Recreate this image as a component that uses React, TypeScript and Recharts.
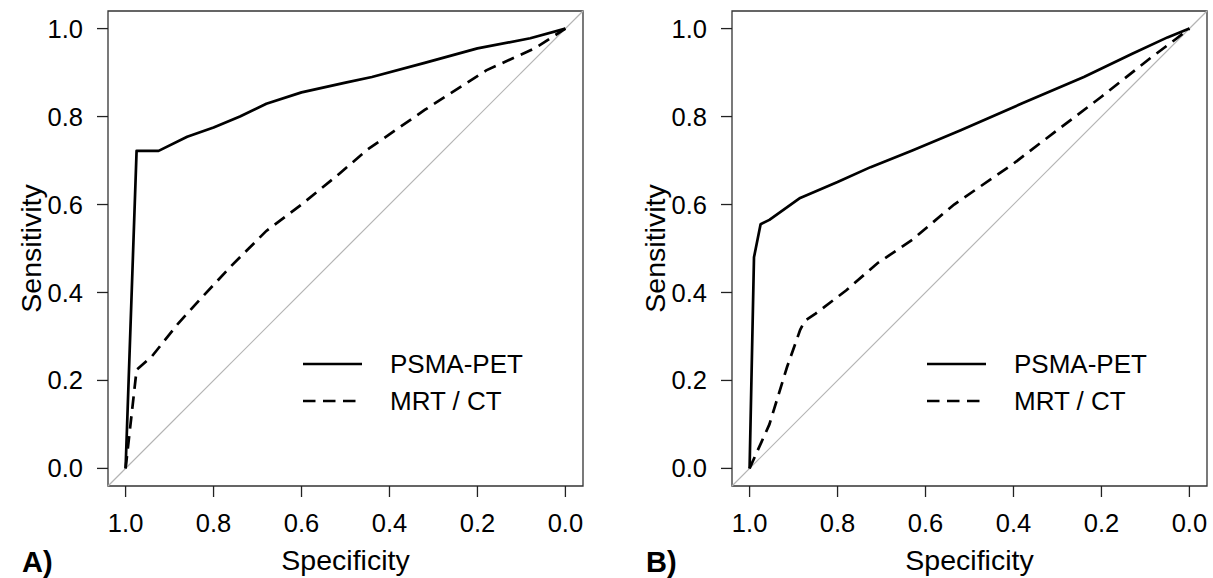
import React from "react";
import {
  Legend,
  Line,
  LineChart,
  ReferenceArea,
  ReferenceLine,
  XAxis,
  YAxis,
} from "recharts";

const FONT = "'Liberation Sans', Arial, sans-serif";

// axis ticks shared by both panels
const TICKS = [0, 0.2, 0.4, 0.6, 0.8, 1.0];

// Panel A
const A_PET_SPEC = [1.0, 0.975, 0.925, 0.86, 0.8, 0.74, 0.68, 0.6, 0.5, 0.44, 0.32, 0.2, 0.08, 0.0];
const A_PET_SENS = [0.0, 0.722, 0.722, 0.754, 0.775, 0.8, 0.829, 0.855, 0.877, 0.89, 0.922, 0.955, 0.978, 1.0];
const A_MRT_SPEC = [1.0, 0.975, 0.94, 0.88, 0.83, 0.76, 0.72, 0.68, 0.6, 0.52, 0.45, 0.32, 0.18, 0.07, 0.0];
const A_MRT_SENS = [0.0, 0.224, 0.255, 0.33, 0.385, 0.46, 0.5, 0.54, 0.6, 0.665, 0.725, 0.815, 0.905, 0.955, 1.0];

// Panel B
const B_PET_SPEC = [1.0, 0.99, 0.975, 0.955, 0.92, 0.885, 0.8, 0.725, 0.63, 0.52, 0.38, 0.24, 0.13, 0.05, 0.0];
const B_PET_SENS = [0.0, 0.48, 0.555, 0.565, 0.59, 0.615, 0.651, 0.685, 0.723, 0.769, 0.83, 0.89, 0.943, 0.98, 1.0];
const B_MRT_SPEC = [1.0, 0.955, 0.915, 0.885, 0.875, 0.85, 0.78, 0.71, 0.63, 0.535, 0.4, 0.34, 0.2, 0.09, 0.03, 0.0];
const B_MRT_SENS = [0.0, 0.1, 0.23, 0.315, 0.335, 0.352, 0.405, 0.466, 0.52, 0.6, 0.693, 0.739, 0.845, 0.932, 0.977, 1.0];

const SERIES = [
  { name: "PSMA-PET", dash: undefined as string | undefined },
  { name: "MRT / CT", dash: "12.5 7.5" },
];

const toPoints = (spec: number[], sens: number[]) =>
  spec.map((s, i) => ({ spec: s, sens: sens[i] }));

const W = 589;
const H = 578;

// legend keeps the series order (recharts sorts by name otherwise)
function renderLegend() {
  return (
    <div style={{ fontFamily: FONT, fontSize: 26, color: "#000" }}>
      {SERIES.map((s) => (
        <div
          key={s.name}
          style={{ display: "flex", alignItems: "center", height: 37, whiteSpace: "nowrap" }}
        >
          <svg width={60} height={8}>
            <line x1={0} x2={59} y1={4} y2={4} stroke="#000" strokeWidth={2.7} strokeDasharray={s.dash} />
          </svg>
          <span style={{ marginLeft: 27 }}>{s.name}</span>
        </div>
      ))}
    </div>
  );
}

function Panel({
  left,
  tag,
  pet,
  mrt,
}: {
  left: number;
  tag: string;
  pet: { spec: number; sens: number }[];
  mrt: { spec: number; sens: number }[];
}) {
  return (
    <div style={{ position: "absolute", left, top: 0 }}>
      <LineChart width={W} height={H} margin={{ top: 11, right: 6, bottom: 12, left: 0 }}>
        <XAxis
          type="number"
          dataKey="spec"
          domain={[-0.04, 1.04]}
          reversed
          ticks={TICKS}
          tickFormatter={(v: number) => v.toFixed(1)}
          allowDataOverflow
          axisLine={false}
          tickSize={11}
          tickMargin={17}
          tickLine={{ stroke: "#222", strokeWidth: 1.3 }}
          tick={{ fill: "#000", fontSize: 25.5, fontFamily: FONT }}
          height={80}
          interval={0}
          label={{
            content: (p: any) => {
              const vb = p.viewBox ?? { x: 108, width: 475 };
              return (
                <g>
                  <text
                    x={vb.x + vb.width / 2}
                    y={570}
                    textAnchor="middle"
                    fontSize={28.5}
                    fontFamily={FONT}
                    fill="#000"
                  >
                    Specificity
                  </text>
                  <text x={22} y={572} fontSize={29} fontWeight="bold" fontFamily={FONT} fill="#000">
                    {tag}
                  </text>
                </g>
              );
            },
          }}
        />
        <YAxis
          type="number"
          dataKey="sens"
          domain={[-0.04, 1.04]}
          ticks={TICKS}
          tickFormatter={(v: number) => v.toFixed(1)}
          allowDataOverflow
          axisLine={false}
          width={108}
          tickSize={11}
          tickMargin={14}
          tickLine={{ stroke: "#222", strokeWidth: 1.3 }}
          tick={{ fill: "#000", fontSize: 25.5, fontFamily: FONT }}
          interval={0}
          label={{
            content: (p: any) => {
              const vb = p.viewBox ?? { y: 11, height: 475 };
              const cy = vb.y + vb.height / 2;
              return (
                <text
                  x={41}
                  y={cy}
                  transform={`rotate(-90, 41, ${cy})`}
                  textAnchor="middle"
                  fontSize={28.5}
                  fontFamily={FONT}
                  fill="#000"
                >
                  Sensitivity
                </text>
              );
            },
          }}
        />
        <ReferenceArea
          x1={1.04}
          x2={-0.04}
          y1={-0.04}
          y2={1.04}
          fill="none"
          stroke="#333"
          strokeWidth={1.3}
        />
        <ReferenceLine
          segment={[
            { x: 1.04, y: -0.04 },
            { x: -0.04, y: 1.04 },
          ]}
          stroke="#b4b4b4"
          strokeWidth={1.2}
        />
        <Line
          data={pet}
          dataKey="sens"
          name={SERIES[0].name}
          type="linear"
          stroke="#000"
          strokeWidth={2.7}
          strokeLinejoin="round"
          dot={false}
          activeDot={false}
          isAnimationActive={false}
        />
        <Line
          data={mrt}
          dataKey="sens"
          name={SERIES[1].name}
          type="linear"
          stroke="#000"
          strokeWidth={2.7}
          strokeDasharray={SERIES[1].dash}
          dot={false}
          activeDot={false}
          isAnimationActive={false}
        />
        <Legend
          layout="horizontal"
          verticalAlign="middle"
          align="center"
          content={renderLegend}
          wrapperStyle={{ left: 303, top: 345.5, width: "auto" }}
        />
      </LineChart>
    </div>
  );
}

export default function App() {
  return (
    <div
      style={{
        position: "absolute",
        left: 0,
        top: 0,
        width: 1213,
        height: 578,
        background: "#fff",
        overflow: "hidden",
      }}
    >
      <Panel left={0} tag="A)" pet={toPoints(A_PET_SPEC, A_PET_SENS)} mrt={toPoints(A_MRT_SPEC, A_MRT_SENS)} />
      <Panel left={624} tag="B)" pet={toPoints(B_PET_SPEC, B_PET_SENS)} mrt={toPoints(B_MRT_SPEC, B_MRT_SENS)} />
    </div>
  );
}
